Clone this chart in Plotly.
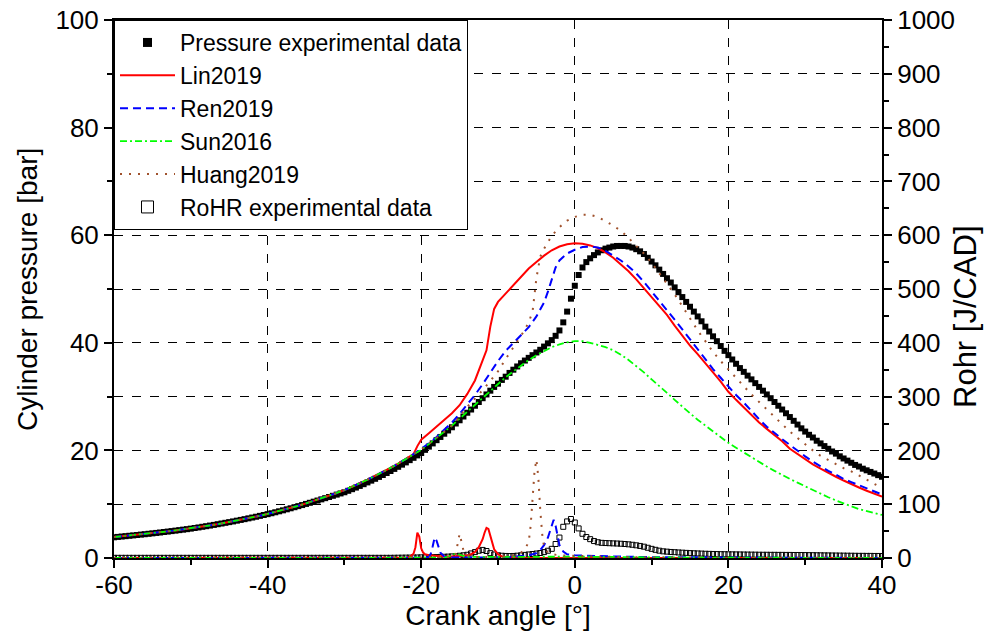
import numpy as np
import plotly.graph_objects as go

# ---------------- DATA ----------------
# crank-angle grid of the experimental data (0.5 deg)
exp_angle = np.arange(-60, 40.01, 0.5)

p_exp = [
    3.85, 3.92, 3.99, 4.06, 4.13, 4.20, 4.27, 4.35, 4.42, 4.50, 4.58, 4.66, 4.74, 4.83, 4.91, 5.00, 5.09, 5.18, 5.27, 5.36, 5.46,
    5.57, 5.68, 5.80, 5.91, 6.03, 6.15, 6.28, 6.41, 6.54, 6.67, 6.80, 6.94, 7.08, 7.22, 7.37, 7.52, 7.67, 7.83, 7.99, 8.15,
    8.32, 8.50, 8.68, 8.86, 9.05, 9.24, 9.44, 9.64, 9.84, 10.05, 10.26, 10.47, 10.68, 10.90, 11.12, 11.34, 11.56, 11.78, 12.00, 12.22,
    12.49, 12.79, 13.09, 13.40, 13.72, 14.05, 14.38, 14.72, 15.07, 15.43, 15.80, 16.17, 16.56, 16.95, 17.35, 17.77, 18.19, 18.62, 19.07, 19.52,
    20.1, 20.7, 21.3, 21.9, 22.5, 23.1, 23.7, 24.3, 25.0, 25.6, 26.3, 27.0, 27.6, 28.3, 29.0, 29.7, 30.4, 31.1, 31.8, 32.4,
    33.1, 33.7, 34.4, 35.0, 35.6, 36.2, 36.7, 37.2, 37.7, 38.2, 38.7, 39.3, 39.9, 40.5, 41.3, 42.3, 43.8, 45.8, 48.2, 50.6,
    52.6, 54.0, 55.0, 55.7, 56.3, 56.8, 57.2, 57.5, 57.7, 57.9, 58.0, 58.0, 58.0, 57.9, 57.7, 57.4, 57.0, 56.5, 55.8, 55.1,
    54.4, 53.6, 52.8, 52.0, 51.2, 50.3, 49.4, 48.5, 47.6, 46.7, 45.8, 44.9, 44.0, 43.0, 42.1, 41.2, 40.3, 39.4, 38.5, 37.7,
    36.9, 36.1, 35.3, 34.6, 33.9, 33.2, 32.5, 31.8, 31.1, 30.4, 29.7, 29.0, 28.3, 27.6, 26.9, 26.2, 25.5, 24.8, 24.1, 23.5,
    22.9, 22.4, 21.8, 21.3, 20.8, 20.3, 19.8, 19.4, 18.9, 18.5, 18.1, 17.7, 17.3, 17.0, 16.6, 16.3, 16.0, 15.7, 15.4, 15.1,
]

rohr_exp = [
    0.3, 0.3, 0.3, 0.3, 0.3, 0.3, 0.3, 0.3, 0.3, 0.3, 0.3, 0.3, 0.3, 0.3, 0.3, 0.3, 0.3, 0.3, 0.3, 0.3, 0.3,
    0.3, 0.3, 0.3, 0.3, 0.3, 0.3, 0.3, 0.3, 0.3, 0.3, 0.3, 0.3, 0.3, 0.3, 0.3, 0.3, 0.3, 0.3, 0.3, 0.3,
    0.3, 0.3, 0.3, 0.3, 0.3, 0.3, 0.3, 0.3, 0.3, 0.3, 0.3, 0.3, 0.3, 0.3, 0.3, 0.3, 0.3, 0.3, 0.3, 0.3,
    0.3, 0.3, 0.3, 0.3, 0.3, 0.3, 0.3, 0.3, 0.3, 0.3, 0.3, 0.3, 0.4, 0.5, 0.6, 0.7, 0.8, 0.9, 1.0, 1.2,
    1.4, 1.5, 1.6, 1.8, 2.0, 2.3, 2.6, 3.0, 3.5, 4.2, 5.0, 6.0, 8.5, 11.0, 13.5, 15.0, 13.0, 9.0, 6.5, 5.0,
    4.2, 3.8, 3.6, 3.8, 4.3, 5.0, 5.8, 6.6, 7.4, 8.3, 9.3, 11.0, 13.5, 17.0, 26.0, 38.0, 58.0, 68.0, 72.5, 66.0,
    55.0, 45.0, 39.0, 35.0, 31.5, 29.3, 28.2, 27.8, 27.5, 27.2, 26.9, 26.5, 26.0, 25.4, 24.6, 23.6, 22.4, 21.0, 19.0, 17.0,
    15.2, 13.6, 12.4, 11.8, 11.2, 10.8, 10.3, 9.9, 9.5, 9.1, 8.8, 8.5, 8.2, 7.9, 7.7, 7.5, 7.3, 7.1, 7.0, 6.9,
    6.8, 6.7, 6.6, 6.5, 6.4, 6.3, 6.2, 6.1, 6.0, 6.0, 5.9, 5.9, 5.8, 5.8, 5.7, 5.7, 5.6, 5.6, 5.5, 5.4,
    5.3, 5.2, 5.1, 5.0, 4.9, 4.8, 4.7, 4.6, 4.5, 4.4, 4.3, 4.2, 4.1, 4.0, 4.0, 3.9, 3.9, 3.8, 3.8, 3.7,
]

# shared motoring part of the simulations (-60 .. -21 deg)
pre_angle = [-60, -59, -58, -57, -56, -55, -54, -53, -52, -51, -50, -49, -48, -47, -46, -45, -44, -43, -42, -41,
             -40, -39, -38, -37, -36, -35, -34, -33, -32, -31, -30, -29, -28, -27, -26, -25, -24, -23, -22, -21]
pre_p = [3.9, 4.03, 4.17, 4.31, 4.46, 4.62, 4.78, 4.95, 5.13, 5.32, 5.52, 5.73, 5.95, 6.18, 6.42, 6.68, 6.95, 7.24, 7.54, 7.86,
         8.2, 8.55, 8.92, 9.31, 9.72, 10.15, 10.6, 11.07, 11.57, 12.09, 12.63, 13.2, 13.9, 14.55, 15.25, 16.0, 16.75, 17.55, 18.4, 19.3]

# Lin2019 pressure (after -21 deg)
lin_angle = [-20.5, -20, -19, -18, -17, -16, -15, -14, -13, -12.5, -12, -11.5, -11, -10.5, -10, -9, -8, -7, -6, -5, -4, -3, -2, -1,
             0, 1, 2, 3, 4, 5, 6, 7, 8, 9, 10, 11, 12, 13, 14, 15, 16, 17, 18, 19, 20, 21, 22, 23, 24, 25, 26, 27, 28, 29, 30,
             31, 32, 33, 34, 35, 36, 37, 38, 39, 40]
lin_p = [20.8, 22.0, 23.2, 24.4, 25.6, 26.9, 28.4, 30.5, 33.0, 34.8, 36.5, 38.6, 43.0, 46.3, 47.6, 49.2, 50.7, 52.3, 53.8, 55.0, 56.2, 57.2, 57.9, 58.3,
         58.5, 58.4, 58.1, 57.6, 56.8, 55.8, 54.6, 53.3, 51.8, 50.2, 48.5, 46.8, 45.2, 43.2, 41.3, 39.5, 37.9, 36.1, 34.5, 32.8, 30.9,
         29.4, 28.0, 26.6, 25.2, 24.0, 22.8, 21.7, 20.3, 19.3, 18.3, 17.4, 16.6, 15.8, 15.1, 14.4, 13.7, 13.1, 12.5, 11.9, 11.4]

# Ren2019 pressure (after -21 deg)
ren_angle = [-20, -19, -18, -17, -16, -15, -14, -13, -12, -11, -10, -9, -8, -7, -6, -5, -4.5, -4, -3.5, -3, -2.5, -2, -1.5, -1,
             0, 1, 2, 3, 4, 5, 6, 7, 8, 9, 10, 11, 12, 13, 14, 15, 16, 17, 18, 19, 20, 21, 22, 23, 24, 25, 26, 27, 28, 29, 30,
             31, 32, 33, 34, 35, 36, 37, 38, 39, 40]
ren_p = [20.3, 21.3, 22.5, 23.8, 25.2, 26.8, 28.5, 30.3, 32.3, 34.5, 36.6, 38.5, 40.0, 41.3, 42.9, 44.9, 46.2, 47.5, 49.5, 51.8, 54.0, 55.3, 56.0, 56.6,
         57.3, 57.8, 57.9, 57.7, 57.1, 56.2, 55.3, 54.2, 52.9, 51.3, 49.6, 47.9, 46.1, 44.3, 42.5, 40.6, 38.7, 36.8, 35.1, 33.5, 31.8,
         30.3, 28.9, 27.3, 25.8, 24.4, 23.2, 22.1, 21.0, 19.9, 18.9, 17.9, 17.0, 16.2, 15.5, 14.7, 14.1, 13.5, 13.0, 12.4, 11.8]

# Sun2016 pressure (after -21 deg)
sun_angle = [-20, -19, -18, -17, -16, -15, -14, -13, -12, -11, -10, -9, -8, -7, -6, -5, -4, -3, -2, -1,
             0, 1, 2, 3, 4, 5, 6, 7, 8, 9, 10, 11, 12, 13, 14, 15, 16, 17, 18, 19, 20, 21, 22, 23, 24, 25, 26, 27, 28, 29, 30,
             31, 32, 33, 34, 35, 36, 37, 38, 39, 40]
sun_p = [20.1, 21.2, 22.3, 23.4, 24.6, 25.9, 27.2, 28.5, 29.8, 31.1, 32.4, 33.6, 34.7, 35.8, 36.8, 37.7, 38.5, 39.2, 39.7, 40.1,
         40.3, 40.3, 40.0, 39.6, 39.2, 38.6, 37.8, 36.8, 35.7, 34.5, 33.2, 32.0, 30.7, 29.4, 28.1, 26.9, 25.7, 24.6, 23.5, 22.4, 21.4,
         20.5, 19.6, 18.7, 17.8, 17.0, 16.2, 15.4, 14.7, 14.0, 13.3, 12.6, 11.9, 11.3, 10.7, 10.1, 9.6, 9.1, 8.7, 8.3, 8.0]

# Huang2019 pressure (after -21 deg)
huang_angle = [-20, -19, -18, -17, -16, -15, -14.5, -14, -13, -12, -11, -10, -9, -8, -7, -6.5, -6, -5.5, -5, -4.5, -4, -3, -2, -1,
               0, 1, 2, 3, 4, 5, 6, 7, 8, 9, 10, 11, 12, 13, 14, 15, 16, 17, 18, 19, 20, 21, 22, 23, 24, 25, 26, 27, 28, 29, 30,
               31, 32, 33, 34, 35, 36, 37, 38, 39, 40]
huang_p = [20.2, 21.2, 22.3, 23.4, 24.6, 26.2, 27.3, 28.1, 29.6, 31.2, 32.9, 34.7, 37.0, 39.1, 41.3, 42.5, 43.8, 45.8, 52.0, 56.0, 57.5, 59.9, 61.5, 62.7,
           63.4, 63.8, 63.8, 63.4, 62.6, 61.8, 60.8, 59.5, 58.0, 56.6, 54.9, 53.0, 51.1, 49.0, 46.8, 44.5, 42.3, 40.3, 38.3, 36.6, 35.0,
           33.4, 31.8, 30.4, 29.0, 27.6, 26.2, 24.8, 23.5, 22.3, 21.1, 20.0, 19.0, 18.2, 17.4, 16.7, 16.1, 15.3, 14.5, 13.8, 13.0]

# Simulated heat release rates [J/CAD]
lin_r_angle = [-60, -22, -21.5, -21, -20.75, -20.5, -20.25, -20, -19.75, -19.5, -19, -18, -17, -16, -15, -14, -13.5, -13, -12.5,
               -12, -11.75, -11.5, -11.25, -11, -10.75, -10.5, -10, -9.5, -9, -8, 40]
lin_r = [0, 0.5, 2, 8, 20, 47, 40, 18, 10, 7, 5, 3.5, 3, 3, 3.5, 5, 7, 11, 20, 35, 47, 56, 54, 42, 28, 16, 7, 3, 1.5, 0.5, 0]

ren_r_angle = [-60, -19.5, -19, -18.75, -18.5, -18.25, -18, -17.75, -17.5, -17, -16, -12, -8, -6, -5, -4.5, -4, -3.5, -3.25,
               -3, -2.75, -2.5, -2.25, -2, -1.5, -1, 0, 2, 5, 10, 40]
ren_r = [0, 0.5, 2, 8, 22, 38, 32, 20, 10, 3, 1, 1, 2, 5, 9, 15, 24, 38, 50, 62, 71, 60, 40, 24, 12, 7, 5, 4, 3, 1.5, 0]

sun_r_angle = [-60, -17, -16.5, -16, -15.5, -15, -14.5, -14, -10, -5, 0, 5, 10, 40]
sun_r = [0, 0.5, 2, 6, 8, 6, 3, 2, 2, 2.5, 2.5, 2, 1, 0]

huang_r_angle = [-60, -16, -15.5, -15.25, -15, -14.75, -14.5, -14, -13, -10, -8, -7, -6.5, -6, -5.75, -5.5, -5.25, -5, -4.75,
                 -4.5, -4.25, -4, -3.5, -3, -2, 0, 2, 5, 10, 40]
huang_r = [0, 1, 8, 25, 45, 30, 14, 5, 2, 2, 5, 10, 16, 30, 60, 110, 160, 183, 150, 90, 45, 20, 10, 7, 5, 4, 3, 2, 1, 0]

x_ticks = [-60, -40, -20, 0, 20, 40]
left_ticks = [0, 20, 40, 60, 80, 100]
right_ticks = [0, 100, 200, 300, 400, 500, 600, 700, 800, 900, 1000]

# ---------------- STYLE ----------------
FONT = "Liberation Sans, Arial, sans-serif"
RED, BLUE, GREEN, BROWN = "#FF0000", "#0000FF", "#00FF00", "#A0522D"
DASH_BLUE = "8px,5px"
DASH_GREEN = "7px,3px,2px,3px"
DASH_BROWN = "2px,7px"
TICK_SIZE = 26

fig = go.Figure()

# experimental pressure
fig.add_trace(go.Scatter(x=exp_angle, y=p_exp, mode="markers", showlegend=False,
                         marker=dict(symbol="square", size=6, color="black")))
# experimental RoHR
fig.add_trace(go.Scatter(x=exp_angle, y=rohr_exp, mode="markers", yaxis="y2", showlegend=False,
                         marker=dict(symbol="square-open", size=5, color="black", line=dict(width=1))))

sims = [
    ("Lin2019", lin_angle, lin_p, lin_r_angle, lin_r, RED, "solid", 2),
    ("Ren2019", ren_angle, ren_p, ren_r_angle, ren_r, BLUE, DASH_BLUE, 2),
    ("Sun2016", sun_angle, sun_p, sun_r_angle, sun_r, GREEN, DASH_GREEN, 1.8),
    ("Huang2019", huang_angle, huang_p, huang_r_angle, huang_r, BROWN, DASH_BROWN, 2),
]
for name, xa, ya, xr, yr, col, dash, w in sims:
    fig.add_trace(go.Scatter(x=pre_angle + xa, y=pre_p + ya, mode="lines", showlegend=False,
                             line=dict(color=col, dash=dash, width=w)))
    fig.add_trace(go.Scatter(x=xr, y=yr, mode="lines", yaxis="y2", showlegend=False,
                             line=dict(color=col, dash=dash, width=w)))

# legend entries
fig.add_trace(go.Scatter(x=[None], y=[None], mode="markers", name="Pressure experimental data",
                         marker=dict(symbol="square", size=9, color="black")))
for name, xa, ya, xr, yr, col, dash, w in sims:
    fig.add_trace(go.Scatter(x=[None], y=[None], mode="lines", name=name,
                             line=dict(color=col, dash=dash, width=w)))
fig.add_trace(go.Scatter(x=[None], y=[None], mode="markers", name="RoHR experimental data",
                         marker=dict(symbol="square-open", size=12, color="black", line=dict(width=1))))

axis_common = dict(showline=True, linecolor="black", linewidth=2, ticks="outside", tickcolor="black",
                   tickwidth=2, ticklen=8, tickfont=dict(family=FONT, size=TICK_SIZE, color="black"),
                   zeroline=False, automargin=False)

fig.update_layout(
    width=984, height=642,
    margin=dict(l=114, r=102, t=20, b=84),
    paper_bgcolor="white", plot_bgcolor="white",
    font=dict(family=FONT, color="black"),
    xaxis=dict(range=[-60, 40], tickvals=x_ticks, ticktext=[str(v) for v in x_ticks], mirror=True,
               showgrid=True, gridcolor="black", griddash="dash", gridwidth=1, ticklabelstandoff=-5,
               minor=dict(dtick=10, ticks="outside", ticklen=5, tickcolor="black", showgrid=False),
               title=dict(text="Crank angle [°]", font=dict(family=FONT, size=28, color="black"), standoff=4),
               **axis_common),
    yaxis=dict(range=[0, 100], tickvals=left_ticks, ticktext=[str(v) for v in left_ticks], showgrid=False,
               minor=dict(dtick=10, ticks="outside", ticklen=5, tickcolor="black", showgrid=False),
               **axis_common),
    yaxis2=dict(range=[0, 1000], tickvals=right_ticks, ticktext=[str(v) for v in right_ticks], overlaying="y",
                side="right", showgrid=True, gridcolor="black", griddash="dash", gridwidth=1,
                minor=dict(dtick=50, ticks="outside", ticklen=5, tickcolor="black", showgrid=False),
                **axis_common),
    legend=dict(x=0, y=1, xanchor="left", yanchor="top", bgcolor="white", bordercolor="black", borderwidth=1,
                font=dict(family=FONT, size=23, color="black"), tracegroupgap=0, itemwidth=55),
    annotations=[
        dict(text="Cylinder pressure [bar]", xref="paper", yref="paper", x=-0.1133, y=0.5, textangle=-90,
             showarrow=False, xanchor="center", yanchor="middle", font=dict(family=FONT, size=28, color="black")),
        dict(text="Rohr [J/CAD]", xref="paper", yref="paper", x=1.1094, y=0.448, textangle=-90,
             showarrow=False, xanchor="center", yanchor="middle", font=dict(family=FONT, size=31, color="black")),
    ],
)

fig.write_html("out.html", config={"displayModeBar": False},
               post_script="document.body.style.margin='0';")
